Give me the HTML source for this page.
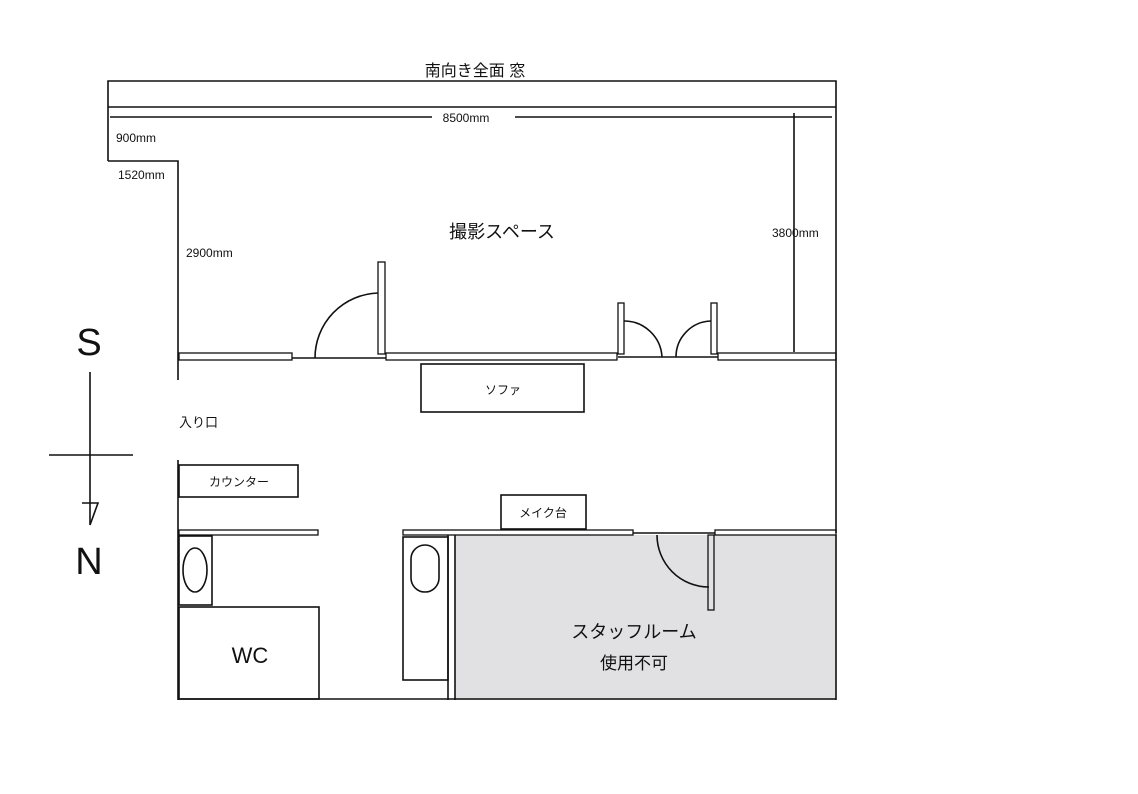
<!DOCTYPE html>
<html><head><meta charset="utf-8"><style>
html,body{margin:0;padding:0;background:#fff;}
svg{display:block;}
text{font-family:"Liberation Sans","Noto Sans CJK JP",sans-serif;fill:#111;}
</style></head><body>
<svg width="1138" height="794" viewBox="0 0 1138 794" xmlns="http://www.w3.org/2000/svg">
<g fill="none" stroke="#111" stroke-width="1.6">
<rect x="455" y="535" width="381" height="165" fill="#e1e1e3" stroke="none"/>
<!-- top window band -->
<polyline points="108,161 108,81 836,81 836,533"/>
<line x1="108" y1="107" x2="836" y2="107"/>
<line x1="836" y1="535" x2="836" y2="700"/>
<polyline points="108,161 178,161 178,380"/>
<line x1="178" y1="460" x2="178" y2="700"/>
<line x1="178" y1="699" x2="836" y2="699"/>
<!-- dimensions -->
<line x1="110" y1="117" x2="432" y2="117"/>
<line x1="515" y1="117" x2="832" y2="117"/>
<line x1="794" y1="113" x2="794" y2="352"/>
<!-- mid wall -->
<rect x="179" y="353" width="113" height="7" stroke-width="1.3"/>
<line x1="292" y1="358" x2="386" y2="358"/>
<rect x="378" y="262" width="7" height="92" stroke-width="1.3"/>
<path d="M315,358 A65,65 0 0 1 378,293"/>
<rect x="386" y="353" width="231" height="7" stroke-width="1.3"/>
<rect x="618" y="303" width="6" height="51" stroke-width="1.3"/>
<path d="M624,321 A38,38 0 0 1 662,357"/>
<line x1="618" y1="357" x2="718" y2="357"/>
<rect x="711" y="303" width="6" height="51" stroke-width="1.3"/>
<path d="M676,357 A36,36 0 0 1 711,321"/>
<rect x="718" y="353" width="118" height="7" stroke-width="1.3"/>
<!-- sofa, counter -->
<rect x="421" y="364" width="163" height="48"/>
<rect x="179" y="465" width="119" height="32"/>
<!-- lower walls -->
<rect x="179" y="530" width="139" height="5" stroke-width="1.3"/>
<rect x="179" y="536" width="33" height="69"/>
<ellipse cx="195" cy="570" rx="12" ry="22"/>
<rect x="179" y="607" width="140" height="92"/>
<rect x="403" y="530" width="230" height="5" stroke-width="1.3"/>
<rect x="403" y="537" width="45" height="143"/>
<rect x="411" y="545" width="28" height="47" rx="14"/>
<line x1="448" y1="535" x2="448" y2="700"/>
<line x1="455" y1="535" x2="455" y2="700"/>
<rect x="501" y="495" width="85" height="34"/>
<line x1="633" y1="533" x2="715" y2="533"/>
<path d="M657,535 A52,52 0 0 0 709,587"/>
<rect x="708" y="535" width="6" height="75" stroke-width="1.3"/>
<rect x="715" y="530" width="121" height="5" stroke-width="1.3"/>
<!-- compass -->
<line x1="90" y1="372" x2="90" y2="525"/>
<line x1="49" y1="455" x2="133" y2="455"/>
<polyline points="82,503 98,503 90,525"/>
</g>
<text x="475" y="76" font-size="16" text-anchor="middle">南向き全面 窓</text>
<text x="466" y="122" font-size="12" text-anchor="middle">8500mm</text>
<text x="116" y="142" font-size="12">900mm</text>
<text x="118" y="179" font-size="12">1520mm</text>
<text x="186" y="257" font-size="12">2900mm</text>
<text x="772" y="237" font-size="12">3800mm</text>
<text x="502" y="238" font-size="18" text-anchor="middle">撮影スペース</text>
<text x="503" y="394" font-size="12" text-anchor="middle">ソファ</text>
<text x="179" y="427" font-size="13">入り口</text>
<text x="239" y="486" font-size="12" text-anchor="middle">カウンター</text>
<text x="543" y="517" font-size="12" text-anchor="middle">メイク台</text>
<text x="250" y="663" font-size="22" text-anchor="middle">WC</text>
<text x="634" y="638" font-size="18" text-anchor="middle">スタッフルーム</text>
<text x="634" y="669" font-size="17" text-anchor="middle">使用不可</text>
<text x="89" y="355" font-size="38" text-anchor="middle">S</text>
<text x="89" y="574" font-size="38" text-anchor="middle">N</text>
</svg>
</body></html>
